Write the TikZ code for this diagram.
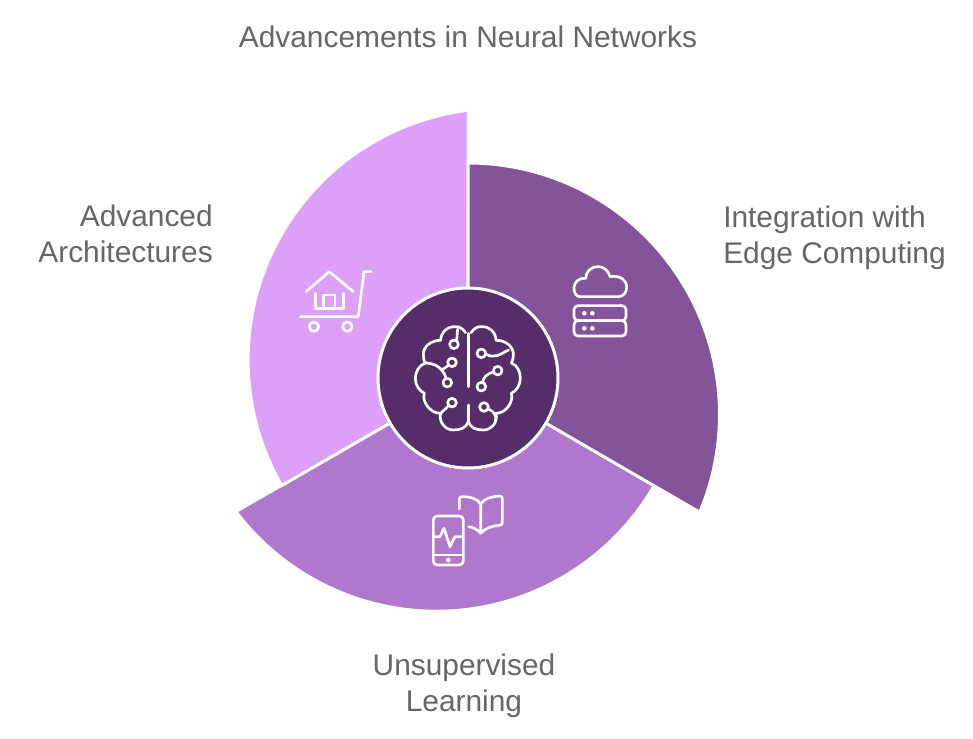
\documentclass[tikz,border=0pt]{standalone}
\usepackage{fontspec}
\setmainfont{Liberation Sans}
\definecolor{segR}{RGB}{131,84,153}
\definecolor{segL}{RGB}{220,160,250}
\definecolor{segB}{RGB}{175,120,204}
\definecolor{hub}{RGB}{85,45,105}
\definecolor{lbl}{RGB}{102,102,102}
\tikzset{
  seg/.style={draw=white,line width=2.25pt,line join=miter},
  ico/.style={draw=white,line width=2pt,line cap=round,line join=round},
  dotf/.style={fill=white},
  txt/.style={text=lbl,font=\fontsize{22.4}{27}\selectfont,inner sep=0pt},
}
\begin{document}
\begin{tikzpicture}[x=0.75pt,y=0.75pt]
\useasboundingbox (-468,-360) rectangle (505,378);
% segments (spiral-offset circles, R=251, rotated by 120 degrees)
\fill[white] (-468,-360) rectangle (505,378);
\path[seg,fill=segB,rotate=-120] (0,0) -- (0,215) arc[start angle=90,end angle=-22.87,radius=251.5] -- cycle;
\path[seg,fill=segL,rotate=120] (0,0) -- (0,215) arc[start angle=90,end angle=-22.87,radius=251.5] -- cycle;
\path[seg,fill=segR] (0,0) -- (0,215) arc[start angle=90,end angle=-22.87,radius=251.5] -- cycle;
\node[circle,draw=white,line width=2.25pt,fill=hub,minimum size=135pt,inner sep=0pt] (hubnode) at (0,0) {};
% brain
\begin{scope}[shift={(-98,98)},x=0.25pt,y=-0.25pt]
\path[ico] (287,158) .. controls (278,146) and (270,140) .. (258,140) .. controls (235,138) and (212,155) .. (212,181)
 .. controls (185,180) and (158,200) .. (160,225) .. controls (160,235) and (162,242) .. (166,249)
 .. controls (148,255) and (136,275) .. (136,295) .. controls (136,315) and (147,332) .. (163,340)
 .. controls (155,362) and (178,400) .. (212,400) .. controls (205,425) and (225,450) .. (250,450)
 .. controls (270,450) and (288,445) .. (295,425);
\path[ico] (303,158) .. controls (312,146) and (320,140) .. (332,140) .. controls (355,138) and (378,155) .. (378,181)
 .. controls (405,180) and (432,200) .. (430,225) .. controls (430,235) and (428,242) .. (424,249)
 .. controls (442,255) and (451,275) .. (451,295) .. controls (451,315) and (440,332) .. (424,340)
 .. controls (432,362) and (410,400) .. (378,400) .. controls (385,425) and (365,450) .. (340,450)
 .. controls (320,450) and (302,445) .. (295,425);
\path[ico] (295,160) -- (295,320);
\path[ico] (295,375) -- (295,425);
\path[ico] (252,193) circle[radius=13];
\path[ico] (263,147) -- (260,182);
\path[ico] (246,247) circle[radius=13];
\path[ico] (232,308) circle[radius=13];
\path[ico] (166,249) .. controls (190,250) and (205,258) .. (215,270) .. controls (222,278) and (226,285) .. (228,295);
\path[ico] (215,270) -- (236,256);
\path[ico] (246,368) circle[radius=13];
\path[ico] (236,377) -- (212,400);
\path[ico] (334,220) circle[radius=13];
\path[ico] (347,222) .. controls (375,238) and (390,222) .. (416,210);
\path[ico] (383,272) circle[radius=13];
\path[ico] (334,320) circle[radius=13];
\path[ico] (370,276) .. controls (350,282) and (340,292) .. (338,307);
\path[ico] (342,381) circle[radius=13];
\path[ico] (354,387) .. controls (372,392) and (382,410) .. (376,425);
\end{scope}
% house and cart
\begin{scope}[shift={(-178,118)},x=0.25pt,y=-0.25pt]
\path[ico] (48,95) -- (118,35) -- (190,95);
\path[ico] (77,100) -- (77,145) -- (160,145) -- (160,100);
\path[ico] (100,145) -- (100,105) -- (135,105) -- (135,145);
\path[ico] (30,170) -- (205,170) -- (222,35) -- (243,35);
\path[ico] (72,200) circle[radius=14];
\path[ico] (172,200) circle[radius=14];
\end{scope}
% cloud and server
\begin{scope}[shift={(92,123)},x=0.25pt,y=-0.25pt]
\path[ico] (60,125) -- (175,125) .. controls (190,125) and (200,112) .. (200,97) .. controls (200,75) and (180,60) .. (150,65)
 .. controls (145,47) and (132,35) .. (115,35) .. controls (92,35) and (78,50) .. (77,70)
 .. controls (58,67) and (42,82) .. (42,98) .. controls (42,113) and (48,125) .. (60,125) -- cycle;
\path[ico,rounded corners=3pt] (42,152) rectangle (198,197);
\path[ico,rounded corners=3pt] (42,197) rectangle (198,243);
\foreach \p in {(73,175),(97,175),(73,220),(97,220)} \fill[dotf] \p circle[radius=7];
\end{scope}
% phone and book
\begin{scope}[shift={(-48,-107)},x=0.25pt,y=-0.25pt]
\path[ico,rounded corners=3pt] (40,93) rectangle (130,240);
\path[ico] (40,210) -- (130,210);
\fill[dotf] (85,225) circle[radius=7];
\path[ico] (40,155) -- (60,155) -- (72,130) -- (90,185) -- (105,155) -- (130,155);
\path[ico] (118,72) -- (118,42) .. controls (118,36) and (122,35) .. (128,35) .. controls (150,35) and (172,40) .. (182,57) -- (182,140);
\path[ico] (182,57) .. controls (192,40) and (215,35) .. (238,33) .. controls (244,33) and (247,35) .. (247,42) -- (247,112) .. controls (247,118) and (244,120) .. (238,121) .. controls (215,123) and (195,130) .. (182,145) .. controls (175,135) and (160,127) .. (146,125);
\end{scope}
% labels
\node[txt,anchor=center] (title) at (0,341) {Advancements in Neural Networks};
\node[txt,anchor=east,align=right] (adv) at (-255,144) {Advanced\\Architectures};
\node[txt,anchor=west,align=left] (edge) at (255,140) {Integration with\\Edge Computing};
\node[txt,anchor=center,align=center] (uns) at (-4,-308) {Unsupervised\\Learning};
\end{tikzpicture}
\end{document}
